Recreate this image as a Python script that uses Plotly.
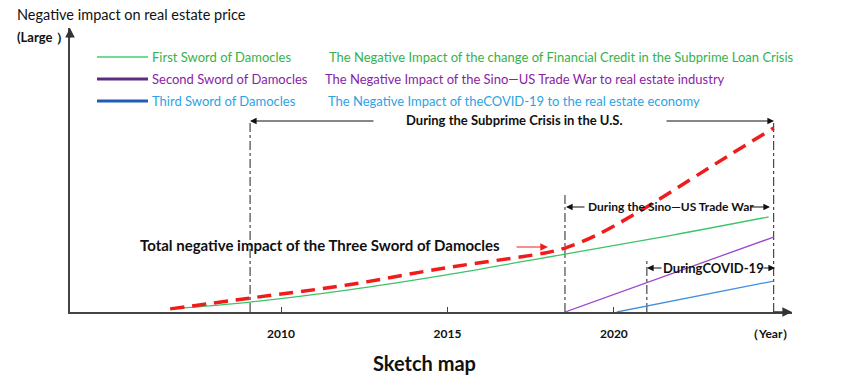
import plotly.graph_objects as go

# ---------------- data ----------------
green_years = [2006.67, 2009.07, 2011.98, 2014.92, 2018.53, 2021.77, 2024.65]
green_vals = [1.1, 3.5, 7.7, 13.0, 20.4, 27.1, 33.5]

red_years = [2006.67, 2009.07, 2011.98, 2014.92, 2017.93, 2018.53, 2019.43, 2020.69, 2022.28, 2023.48, 2024.80]
red_vals = [1.1, 4.9, 9.5, 15.5, 20.8, 22.5, 26.8, 34.9, 46.5, 55.3, 64.8]

purple_years = [2018.53, 2024.80]
purple_vals = [0.0, 26.4]

blue_years = [2020.09, 2024.80]
blue_vals = [0.0, 10.9]

# vertical period markers (year, top value)
marker_years = [2009.07, 2018.53, 2020.99, 2024.80]
marker_tops = [67.3, 41.2, 18.3, 67.3]

tick_years = [2010, 2015, 2020]
tick_labels = ["2010", "2015", "2020"]

legend_names = ["First Sword of Damocles", "Second Sword of Damocles", "Third Sword of Damocles"]
legend_desc = [
    "The Negative Impact of the change of Financial Credit in the Subprime Loan Crisis",
    "The Negative Impact of the Sino\u2014US Trade War to real estate industry",
    "The Negative Impact of theCOVID-19 to the real estate economy",
]

# ---------------- layout geometry ----------------
W, H = 850, 389
L, R, T, B = 70, 58, 28, 77
XMIN, XMAX = 2003.66, 2025.35
YMIN, YMAX = 0, 100
FONT = "Lato"


def X(px):
    return XMIN + (px - L) / (W - L - R) * (XMAX - XMIN)


def Y(py):
    return YMIN + (H - B - py) / (H - B - T) * (YMAX - YMIN)


def PX(px):
    return (px - L) / (W - L - R)


def PY(py):
    return (H - B - py) / (H - B - T)


fig = go.Figure()

# period marker lines (dash-dot)
for yr, top in zip(marker_years, marker_tops):
    fig.add_trace(go.Scatter(x=[yr, yr], y=[0, top], mode="lines",
                             line=dict(color="#222222", width=1, dash="dashdot"),
                             hoverinfo="skip", showlegend=False))

fig.add_trace(go.Scatter(x=green_years, y=green_vals, mode="lines", line=dict(color="#3cc466", width=1.3, shape="spline"),
                         showlegend=False))
fig.add_trace(go.Scatter(x=purple_years, y=purple_vals, mode="lines", line=dict(color="#9b45cf", width=1.3),
                         showlegend=False))
fig.add_trace(go.Scatter(x=blue_years, y=blue_vals, mode="lines", line=dict(color="#3b8fdf", width=1.3),
                         showlegend=False))
fig.add_trace(go.Scatter(x=red_years, y=red_vals, mode="lines",
                         line=dict(color="#f01c1c", width=3.5, dash="14px,8px", shape="spline"),
                         showlegend=False))

shapes = []
annotations = []

# legend samples and texts
leg_line_colors = ["#3fd06f", "#5b2c80", "#1f5db5"]
leg_line_widths = [1.5, 3, 3]
leg_text_colors = ["#35b24a", "#8a22a8", "#2ba3e4"]
leg_py = [57, 79, 101]
desc_px = [327, 323, 326]
for i in range(3):
    shapes.append(dict(type="line", xref="paper", yref="paper", x0=PX(97), x1=PX(148),
                       y0=PY(leg_py[i]), y1=PY(leg_py[i]),
                       line=dict(color=leg_line_colors[i], width=leg_line_widths[i])))
    annotations.append(dict(xref="paper", yref="paper", x=PX(150), y=PY(leg_py[i]), xanchor="left",
                            yanchor="middle", text=legend_names[i], showarrow=False,
                            font=dict(family=FONT, size=13, color=leg_text_colors[i])))
    annotations.append(dict(xref="paper", yref="paper", x=PX(desc_px[i]), y=PY(leg_py[i]), xanchor="left",
                            yanchor="middle", text=legend_desc[i], showarrow=False,
                            font=dict(family=FONT, size=13, color=leg_text_colors[i])))


def arrow(x0px, x1px, ypx, color="#111111", width=1.2, size=1.1):
    # arrow from x0px to x1px (head at x1px)
    annotations.append(dict(x=X(x1px), y=Y(ypx), ax=X(x0px), ay=Y(ypx), xref="x", yref="y",
                            axref="x", ayref="y", text="", showarrow=True, arrowhead=2,
                            arrowsize=size, arrowwidth=width, arrowcolor=color))


def label(text, cxpx, ypx, size=13, color="#111111", anchor="center"):
    annotations.append(dict(x=X(cxpx), y=Y(ypx), xref="x", yref="y", text=text, showarrow=False,
                            xanchor=anchor, yanchor="middle",
                            font=dict(family=FONT, size=size, color=color, weight="bold")))


# Subprime period
arrow(375, 250, 121)
arrow(665, 774, 121)
label("During the Subprime Crisis in the U.S.", 514, 120)
# Trade war period
arrow(586, 566, 207)
arrow(750, 770, 207)
label("During the Sino\u2014US Trade War", 671, 206, size=12)
# COVID period
arrow(663, 647, 268)
arrow(762, 775, 268)
label("DuringCOVID-19", 713, 268, size=13)
# Total impact label
label("Total negative impact of the Three Sword of Damocles", 320, 245, size=15)
arrow(515, 548, 247, color="#f01c1c", width=1.1, size=1.4)

# axis arrowheads
annotations.append(dict(x=XMAX, y=0, ax=XMAX - 0.6, ay=0, xref="x", yref="y", axref="x", ayref="y",
                        text="", showarrow=True, arrowhead=2, arrowsize=1.2, arrowwidth=1.6,
                        arrowcolor="#333333"))
annotations.append(dict(x=XMIN, y=YMAX, ax=XMIN, ay=YMAX - 4, xref="x", yref="y", axref="x", ayref="y",
                        text="", showarrow=True, arrowhead=2, arrowsize=1.2, arrowwidth=1.6,
                        arrowcolor="#333333"))

# axis titles and caption
annotations.append(dict(xref="paper", yref="paper", x=PX(15), y=PY(14), xanchor="left", yanchor="middle",
                        text="Negative impact on real estate price", showarrow=False,
                        font=dict(family=FONT, size=14.5, color="#111111")))
annotations.append(dict(xref="paper", yref="paper", x=PX(15), y=PY(37), xanchor="left", yanchor="middle",
                        text="(Large \uff09", showarrow=False,
                        font=dict(family=FONT, size=13, color="#111111", weight="bold")))
annotations.append(dict(xref="paper", yref="paper", x=PX(770), y=PY(333), xanchor="center", yanchor="middle",
                        text="\uff08Year\uff09", showarrow=False,
                        font=dict(family=FONT, size=12, color="#111111", weight="bold")))
annotations.append(dict(xref="paper", yref="paper", x=PX(424), y=PY(363), xanchor="center", yanchor="middle",
                        text="Sketch map", showarrow=False,
                        font=dict(family=FONT, size=20, color="#111111", weight="bold")))

fig.update_layout(
    width=W, height=H,
    margin=dict(l=L, r=R, t=T, b=B, pad=0),
    paper_bgcolor="white", plot_bgcolor="white",
    showlegend=False,
    shapes=shapes,
    annotations=annotations,
    xaxis=dict(range=[XMIN, XMAX], showgrid=False, zeroline=False, showline=True,
               linecolor="#444444", linewidth=2, ticks="inside", ticklen=5, tickwidth=1.2,
               tickcolor="#444444", tickvals=tick_years, ticktext=tick_labels,
               ticklabelstandoff=10,
               tickfont=dict(family=FONT, size=12, color="#111111", weight="bold")),
    yaxis=dict(range=[YMIN, YMAX], showgrid=False, zeroline=False, showline=True,
               linecolor="#444444", linewidth=2, showticklabels=False, ticks=""),
)

fig.write_html("out.html", config={"displayModeBar": False},
               post_script="document.body.style.margin='0px';document.body.style.overflow='hidden';")
